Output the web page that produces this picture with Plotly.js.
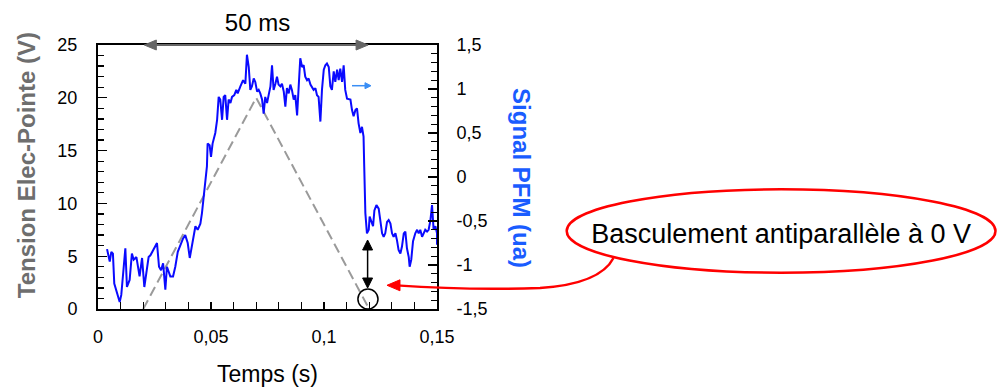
<!DOCTYPE html>
<html><head><meta charset="utf-8">
<script src="https://cdn.plot.ly/plotly-3.0.1.min.js"></script>
<style>html,body{margin:0;padding:0;background:#fff}#chart{width:998px;height:387px}</style>
</head><body><div id="chart"></div>
<script>
// PFM signal (right axis, a.u.) versus time (s)
const time_s = [
0.0040,0.0052,0.0059,0.0066,0.0072,0.0084,0.0096,0.0103,0.0111,0.0121,
0.0128,0.0140,0.0150,0.0158,0.0170,0.0176,0.0184,0.0195,0.0205,0.0214,
0.0224,0.0232,0.0243,0.0254,0.0261,0.0270,0.0279,0.0288,0.0298,0.0305,
0.0320,0.0332,0.0342,0.0353,0.0364,0.0376,0.0386,0.0397,0.0406,0.0412,
0.0420,0.0431,0.0441,0.0453,0.0460,0.0468,0.0475,0.0482,0.0485,0.0494,
0.0500,0.0507,0.0519,0.0527,0.0534,0.0541,0.0549,0.0556,0.0563,0.0571,
0.0578,0.0586,0.0593,0.0603,0.0612,0.0618,0.0630,0.0642,0.0652,0.0659,
0.0667,0.0674,0.0681,0.0689,0.0696,0.0704,0.0711,0.0718,0.0726,0.0733,
0.0740,0.0748,0.0755,0.0763,0.0770,0.0777,0.0785,0.0792,0.0799,0.0807,
0.0814,0.0822,0.0829,0.0836,0.0844,0.0851,0.0858,0.0866,0.0873,0.0881,
0.0888,0.0895,0.0903,0.0910,0.0917,0.0925,0.0932,0.0940,0.0954,0.0962,
0.0969,0.0976,0.0984,0.0991,0.0999,0.1006,0.1013,0.1021,0.1028,0.1035,
0.1043,0.1050,0.1058,0.1065,0.1072,0.1080,0.1087,0.1094,0.1102,0.1117,
0.1124,0.1131,0.1139,0.1146,0.1153,0.1161,0.1168,0.1175,0.1178,0.1183,
0.1190,0.1198,0.1202,0.1208,0.1217,0.1223,0.1232,0.1242,0.1249,0.1257,
0.1264,0.1271,0.1279,0.1286,0.1294,0.1301,0.1308,0.1316,0.1323,0.1330,
0.1338,0.1345,0.1353,0.1360,0.1367,0.1375,0.1379,0.1386,0.1394,0.1404,
0.1412,0.1419,0.1426,0.1434,0.1441,0.1448,0.1456,0.1463,0.1471,0.1478,
0.1485,0.1493,0.1500,0.1500];
const pfm_signal = [
-0.82,-0.96,-0.85,-0.87,-1.21,-1.32,-1.42,-1.34,-1.13,-0.81,
-1.25,-1.17,-0.87,-0.94,-0.91,-1.02,-1.13,-0.92,-1.25,-1.09,
-0.91,-0.89,-0.83,-0.79,-0.75,-1.02,-1.06,-0.98,-1.28,-1.02,
-1.13,-1.13,-1.02,-0.85,-0.77,-0.70,-0.66,-0.75,-0.92,-0.83,
-0.68,-0.56,-0.60,-0.53,-0.41,-0.22,-0.07,0.12,0.38,0.36,
0.23,0.38,0.50,0.65,0.91,0.88,0.65,0.91,0.93,0.65,
0.88,0.84,0.91,0.93,0.99,0.95,1.03,1.10,1.06,1.39,
1.25,0.99,1.03,1.12,1.08,0.97,0.99,0.95,0.88,0.72,
0.91,0.84,0.93,1.03,1.27,0.99,1.06,1.14,1.05,1.03,
1.06,0.97,0.80,1.01,0.95,1.05,0.99,0.88,0.93,0.70,
1.03,1.35,1.25,1.27,1.14,1.10,1.12,1.05,0.99,1.01,
0.93,0.91,0.63,0.99,1.22,1.27,1.29,1.25,1.03,0.99,
1.20,1.08,1.22,1.10,1.23,1.08,1.27,0.99,0.89,0.88,
0.76,0.69,0.76,0.78,0.61,0.50,0.57,0.46,0.12,-0.41,
-0.64,-0.60,-0.45,-0.49,-0.56,-0.38,-0.32,-0.36,-0.51,-0.64,
-0.68,-0.64,-0.51,-0.49,-0.53,-0.64,-0.68,-0.64,-0.72,-0.83,
-0.87,-0.79,-0.64,-0.62,-0.81,-0.91,-1.02,-0.94,-0.73,-0.64,
-0.60,-0.64,-0.60,-0.68,-0.64,-0.60,-0.62,-0.60,-0.49,-0.32,
-0.60,-0.56,-0.64,-0.77];

// Tip-electrode voltage ramp (left axis, V)
const ramp_time = [0.02, 0.07, 0.12];
const ramp_voltage = [0, 20, 0];

// Tick labels
const x_tickvals = [0, 0.05, 0.1, 0.15];
const x_ticktext = ['0', '0,05', '0,1', '0,15'];
const yl_tickvals = [0, 5, 10, 15, 20, 25];
const yl_ticktext = ['0', '5', '10', '15', '20', '25'];
const yr_tickvals = [-1.5, -1, -0.5, 0, 0.5, 1, 1.5];
const yr_ticktext = ['-1,5', '-1', '-0,5', '0', '0,5', '1', '1,5'];

// Texts
const x_title = 'Temps (s)';
const yl_title = 'Tension Elec-Pointe (V)';
const yr_title = 'Signal PFM (ua)';
const span_label = '50 ms';
const callout_text = 'Basculement antiparallèle à 0 V';

const FONT = 'Liberation Sans, Arial, sans-serif';

const traces = [
  {x: ramp_time, y: ramp_voltage, type: 'scatter', mode: 'lines', yaxis: 'y',
   line: {color: '#9a9a9a', width: 2, dash: '10px,5px'}, hoverinfo: 'skip'},
  {x: time_s, y: pfm_signal, type: 'scatter', mode: 'lines', yaxis: 'y2',
   line: {color: '#0a0aff', width: 2}, hoverinfo: 'skip'}
];

const tickCommon = {ticks: 'inside', tickcolor: '#000', tickwidth: 1.3,
  showline: true, linecolor: '#000', linewidth: 2, showgrid: false, zeroline: false,
  tickfont: {family: FONT, size: 18, color: '#000'}, tickmode: 'array'};

function pline(x0, y0, x1, y1, color, width) {
  return {type: 'line', xref: 'paper', yref: 'paper', x0: x0, y0: y0, x1: x1, y1: y1,
          line: {color: color, width: width}};
}
function phead(path, color) {
  return {type: 'path', xref: 'paper', yref: 'paper', path: path,
          fillcolor: color, line: {color: color, width: 1}};
}
// invisible carrier line holding a text label
function ptext(x0, y0, x1, y1, text, angle, font) {
  return {type: 'line', xref: 'paper', yref: 'paper', x0: x0, y0: y0, x1: x1, y1: y1,
          line: {color: 'rgba(0,0,0,0)', width: 0},
          label: {text: text, textangle: angle, textposition: 'middle',
                  xanchor: 'center', yanchor: 'middle', padding: 0, font: font}};
}

const layout = {
  width: 998, height: 387,
  margin: {l: 98, r: 561, t: 45, b: 78, pad: 0},
  paper_bgcolor: '#fff', plot_bgcolor: '#fff',
  showlegend: false,
  font: {family: FONT, size: 18, color: '#000'},
  title: {text: span_label, xref: 'paper', x: 0.4705, yref: 'container', y: 0.9406,
          xanchor: 'center', yanchor: 'middle', font: {family: FONT, size: 24, color: '#000'}},
  xaxis: Object.assign({}, tickCommon, {
    range: [0, 0.15], tickvals: x_tickvals, ticktext: x_ticktext, ticklen: 7, mirror: true,
    ticklabelstandoff: 10,
    minor: {tickmode: 'linear', tick0: 0, dtick: 0.01, ticks: 'inside', ticklen: 7, tickwidth: 1.3, tickcolor: '#000', showgrid: false}
  }),
  yaxis: Object.assign({}, tickCommon, {
    range: [0, 25], tickvals: yl_tickvals, ticktext: yl_ticktext, ticklen: 9, mirror: true,
    ticklabelstandoff: 15,
    minor: {tickmode: 'linear', tick0: 0, dtick: 1, ticks: 'inside', ticklen: 6, tickwidth: 1.3, tickcolor: '#000', showgrid: false}
  }),
  yaxis2: Object.assign({}, tickCommon, {
    range: [-1.5, 1.5], tickvals: yr_tickvals, ticktext: yr_ticktext, ticklen: 9,
    overlaying: 'y', side: 'right', ticklabelstandoff: 14,
    minor: {tickmode: 'linear', tick0: -1.5, dtick: 0.1, ticks: 'inside', ticklen: 6, tickwidth: 1.3, tickcolor: '#000', showgrid: false}
  }),
  shapes: [
    {type: 'circle', xref: 'x', yref: 'y', x0: 0.1150, x1: 0.1239, y0: 0, y1: 1.89,
     line: {color: '#000', width: 1.5}},
    {type: 'circle', xref: 'paper', yref: 'paper', x0: 1.3826, x1: 2.6475, y0: 0.1375, y1: 0.4534,
     line: {color: '#ff0000', width: 2.5},
     label: {text: callout_text, textposition: 'middle center', padding: 0,
             font: {family: FONT, size: 27, color: '#000'}}},
    {type: 'path', xref: 'paper', yref: 'paper',
     path: 'M 0.8800 0.0895 Q 1.0973 0.0701 1.3038 0.0795 Q 1.4808 0.0947 1.5206 0.1932',
     line: {color: '#ff0000', width: 2.5}},
    phead('M 0.8525 0.0898 L 0.8908 0.1106 L 0.8908 0.0690 Z', '#ff0000'),
    pline(0.1600, 1.0, 0.7730, 1.0, '#666666', 2),
    phead('M 0.1367 1.0 L 0.1721 1.0189 L 0.1721 0.9811 Z', '#666666'),
    phead('M 0.7967 1.0 L 0.7613 1.0189 L 0.7613 0.9811 Z', '#666666'),
    pline(0.7953, 0.1100, 0.7953, 0.2300, '#000000', 1.5),
    phead('M 0.7953 0.0795 L 0.7806 0.1174 L 0.8100 0.1174 Z', '#000000'),
    phead('M 0.7953 0.2614 L 0.7806 0.2235 L 0.8100 0.2235 Z', '#000000'),
    pline(0.7493, 0.8458, 0.7930, 0.8458, '#3a8ef5', 1.5),
    phead('M 0.8053 0.8458 L 0.7876 0.8572 L 0.7876 0.8344 Z', '#3a8ef5'),
    ptext(-0.218, 0.09, -0.218, 1.0, yl_title, -90,
          {family: FONT, size: 24, color: '#6e6e6e', weight: 'bold'}),
    ptext(1.2537, 0.092, 1.2537, 0.9, yr_title, 90,
          {family: FONT, size: 24, color: '#1a5cff', weight: 'bold'}),
    ptext(0.3, -0.2386, 0.7, -0.2386, x_title, 0,
          {family: FONT, size: 23, color: '#000'})
  ]
};

Plotly.newPlot('chart', traces, layout, {staticPlot: true, displayModeBar: false});
</script>
</body></html>
